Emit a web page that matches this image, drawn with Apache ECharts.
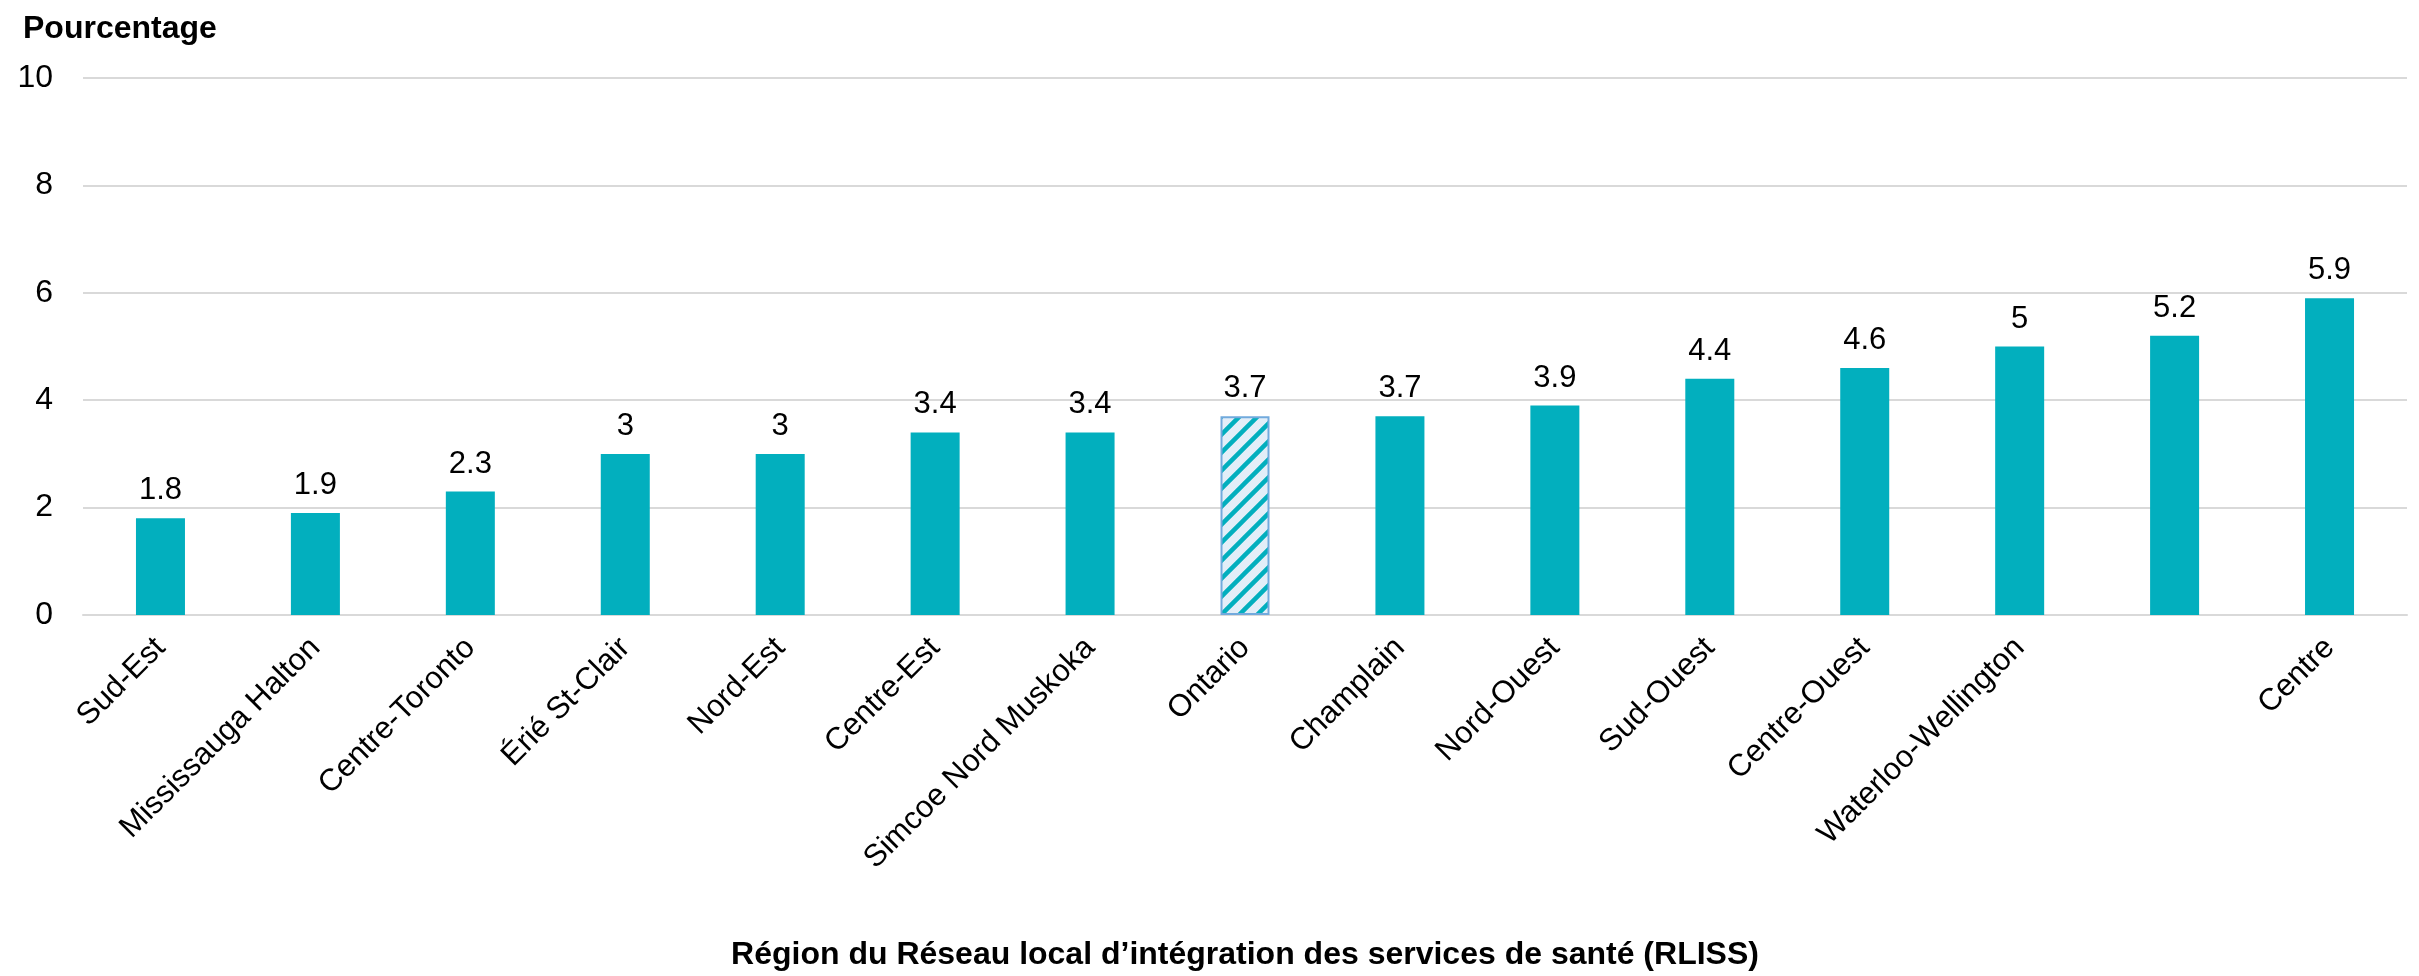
<!DOCTYPE html>
<html>
<head>
<meta charset="utf-8">
<script src="https://cdn.jsdelivr.net/npm/echarts@6/dist/echarts.min.js"></script>
<style>
  html, body { margin: 0; padding: 0; background: #fff; }
  #chart { width: 2419px; height: 976px; }
</style>
</head>
<body>
<div id="chart"></div>
<script>
// regions (the 14th label is blank in the source)
const regions = [
  "Sud-Est", "Mississauga Halton", "Centre-Toronto", "Érié St-Clair", "Nord-Est",
  "Centre-Est", "Simcoe Nord Muskoka", "Ontario", "Champlain", "Nord-Ouest",
  "Sud-Ouest", "Centre-Ouest", "Waterloo-Wellington", "", "Centre"
];
const values = [1.8, 1.9, 2.3, 3, 3, 3.4, 3.4, 3.7, 3.7, 3.9, 4.4, 4.6, 5, 5.2, 5.9];
const yTicks = [0, 2, 4, 6, 8, 10];
const highlight = "Ontario";

const FONT = "'Liberation Sans', Arial, sans-serif";
const TEAL = "#02AFBE";

// hatched fill for the province bar
function makeHatch() {
  const s = 18;
  const c = document.createElement("canvas");
  c.width = s; c.height = s;
  const ctx = c.getContext("2d");
  ctx.fillStyle = "#E3EEF8";
  ctx.fillRect(0, 0, s, s);
  ctx.strokeStyle = TEAL;
  ctx.lineWidth = 4.5;
  ctx.beginPath();
  ctx.moveTo(-s / 2, s / 2); ctx.lineTo(s / 2, -s / 2);
  ctx.moveTo(0, s); ctx.lineTo(s, 0);
  ctx.moveTo(s / 2, s * 1.5); ctx.lineTo(s * 1.5, s / 2);
  ctx.stroke();
  return c;
}
const hatch = makeHatch();

const chart = echarts.init(document.getElementById("chart"));

const option = {
  animation: false,
  title: {
    text: "Pourcentage",
    left: 18,
    top: 8,
    textStyle: { fontFamily: FONT, fontSize: 32, fontWeight: "bold", color: "#000" }
  },
  grid: { left: 83, right: 12, top: 78, bottom: 361, outerBoundsMode: "none" },
  xAxis: {
    type: "category",
    data: regions,
    name: "Région du Réseau local d’intégration des services de santé (RLISS)",
    nameLocation: "middle",
    nameGap: 324,
    nameTextStyle: { fontFamily: FONT, fontSize: 32, fontWeight: "bold", color: "#000" },
    axisLine: { lineStyle: { color: "#D9D9D9", width: 2 } },
    axisTick: { show: false },
    axisLabel: {
      interval: 0,
      rotate: 45,
      margin: 28,
      fontFamily: FONT,
      fontSize: 31,
      color: "#000"
    }
  },
  yAxis: {
    type: "value",
    min: yTicks[0],
    max: yTicks[yTicks.length - 1],
    interval: yTicks[1] - yTicks[0],
    axisLine: { show: false },
    axisTick: { show: false },
    axisLabel: { margin: 30, fontFamily: FONT, fontSize: 32, color: "#000" },
    splitLine: { lineStyle: { color: "#D9D9D9", width: 2 } }
  },
  series: [
    {
      type: "bar",
      barWidth: 49,
      data: values.map((v, i) =>
        regions[i] === highlight
          ? { value: v, itemStyle: { color: { image: hatch, repeat: "repeat" }, borderColor: "#72AADD", borderWidth: 2 } }
          : { value: v }
      ),
      itemStyle: { color: TEAL },
      label: {
        show: true,
        position: "top",
        distance: 12,
        fontFamily: FONT,
        fontSize: 31,
        color: "#000"
      }
    }
  ]
};

chart.setOption(option);
</script>
</body>
</html>
